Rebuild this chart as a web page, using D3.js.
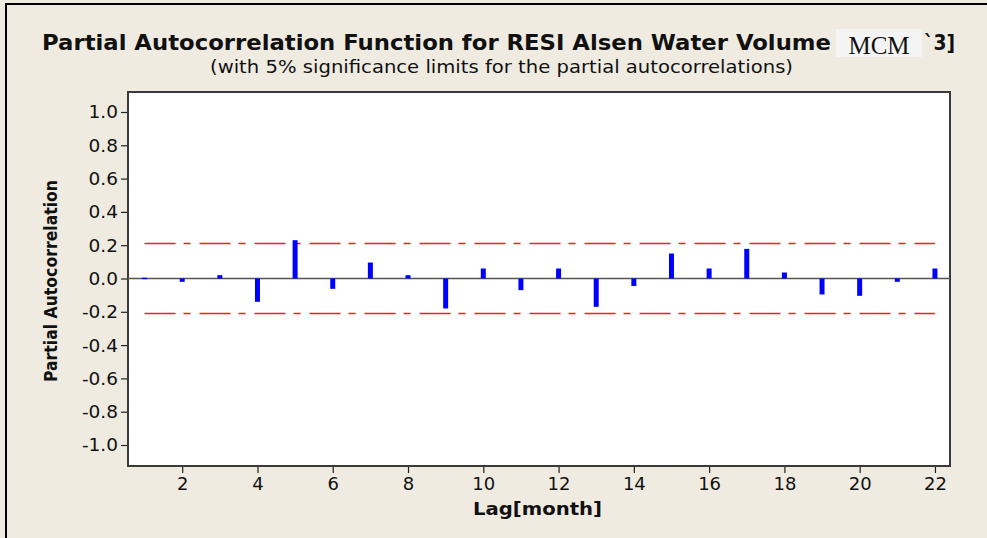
<!DOCTYPE html>
<html><head><meta charset="utf-8">
<script src="https://cdn.jsdelivr.net/npm/d3@7"></script>
<style>body{margin:0;background:#fff}svg{display:block}</style>
</head><body>
<script>
const lags = d3.range(1, 23);
const pacf = [0.005, -0.02, 0.02, -0.14, 0.23, -0.062, 0.096, 0.02, -0.18, 0.06, -0.07,
              0.06, -0.17, -0.045, 0.15, 0.06, 0.178, 0.036, -0.096, -0.104, -0.02, 0.06];
const limit = 0.21;
const yTicks = [1.0, 0.8, 0.6, 0.4, 0.2, 0.0, -0.2, -0.4, -0.6, -0.8, -1.0];
const xTicks = [2, 4, 6, 8, 10, 12, 14, 16, 18, 20, 22];

const W = 987, H = 538;
const svg = d3.select("body").append("svg").attr("width", W).attr("height", H);
svg.append("rect").attr("width", W).attr("height", H).attr("fill", "#efebe1");
svg.append("path").attr("d", "M6,538 L6,4 L987,4").attr("fill", "none").attr("stroke", "#000").attr("stroke-width", 2);

const L = 128, R = 950, T = 92, B = 466;
const x = d3.scaleLinear().domain([0.56, 22.4]).range([L, R]);
const y = d3.scaleLinear().domain([-1, 1]).range([445, 112]);

svg.append("rect").attr("x", L).attr("y", T).attr("width", R - L).attr("height", B - T)
  .attr("fill", "#fff").attr("stroke", "#3a3a3a").attr("stroke-width", 2);

svg.append("line").attr("x1", L).attr("x2", R).attr("y1", y(0)).attr("y2", y(0))
  .attr("stroke", "#555").attr("stroke-width", 1.3);

[limit, -limit].forEach(v => {
  svg.append("line").attr("x1", x(1)).attr("x2", x(22)).attr("y1", y(v)).attr("y2", y(v))
    .attr("stroke", "#ff1a1a").attr("stroke-width", 1.6).attr("stroke-dasharray", "31,8,7,9");
});

svg.append("g").selectAll("rect").data(lags).join("rect")
  .attr("x", d => x(d) - 2.5)
  .attr("width", 5)
  .attr("y", (d, i) => y(Math.max(0, pacf[i])))
  .attr("height", (d, i) => Math.max(1.5, Math.abs(y(pacf[i]) - y(0))))
  .attr("fill", "#0000ff");

const font = "DejaVu Sans, Verdana, sans-serif";
const ya = svg.append("g").attr("transform", `translate(${L - 1},0)`)
  .call(d3.axisLeft(y).tickValues(yTicks).tickSize(6).tickPadding(3));
ya.select(".domain").remove();
ya.selectAll("line").attr("stroke", "#222").attr("stroke-width", 1.2);
ya.selectAll("text").attr("font-family", font).attr("font-size", 18.5).attr("fill", "#111")
  .text(d => d3.format(".1f")(d).replace("\u2212", "-"));

const xa = svg.append("g").attr("transform", `translate(0,${B + 1})`)
  .call(d3.axisBottom(x).tickValues(xTicks).tickFormat(d3.format("d")).tickSize(6).tickPadding(4));
xa.select(".domain").remove();
xa.selectAll("line").attr("stroke", "#222").attr("stroke-width", 1.2);
xa.selectAll("text").attr("font-family", font).attr("font-size", 18).attr("fill", "#111");

// title (the part under the pasted "MCM" patch is hidden in the reference)
svg.append("text").attr("x", 42).attr("y", 50)
  .attr("font-family", font).attr("font-weight", "bold").attr("font-size", 20.5)
  .attr("textLength", 789).attr("lengthAdjust", "spacingAndGlyphs").attr("fill", "#111")
  .text("Partial Autocorrelation Function for RESI Alsen Water Volume");
svg.append("text").attr("x", 924).attr("y", 50)
  .attr("font-family", font).attr("font-weight", "bold").attr("font-size", 20.5)
  .attr("textLength", 31).attr("lengthAdjust", "spacingAndGlyphs").attr("fill", "#111")
  .text("`3]");
svg.append("rect").attr("x", 836).attr("y", 29).attr("width", 86).attr("height", 28).attr("fill", "#f4f4f4");
svg.append("text").attr("x", 879).attr("y", 54).attr("text-anchor", "middle")
  .attr("font-family", "Liberation Serif, Times New Roman, serif").attr("font-size", 25).attr("fill", "#111")
  .text("MCM");
svg.append("text").attr("x", 210).attr("y", 73)
  .attr("font-family", font).attr("font-size", 18).attr("fill", "#111")
  .attr("textLength", 583).attr("lengthAdjust", "spacingAndGlyphs")
  .text("(with 5% significance limits for the partial autocorrelations)");
svg.append("text").attr("transform", `translate(57,382) rotate(-90)`)
  .attr("font-family", "DejaVu Sans Condensed, DejaVu Sans, sans-serif").attr("font-weight", "bold").attr("font-size", 18).attr("fill", "#111")
  .attr("textLength", 202).attr("lengthAdjust", "spacingAndGlyphs")
  .text("Partial Autocorrelation");
svg.append("text").attr("x", 473).attr("y", 515)
  .attr("font-family", font).attr("font-weight", "bold").attr("font-size", 17).attr("fill", "#111")
  .attr("textLength", 129).attr("lengthAdjust", "spacingAndGlyphs")
  .text("Lag[month]");
</script>
</body></html>
